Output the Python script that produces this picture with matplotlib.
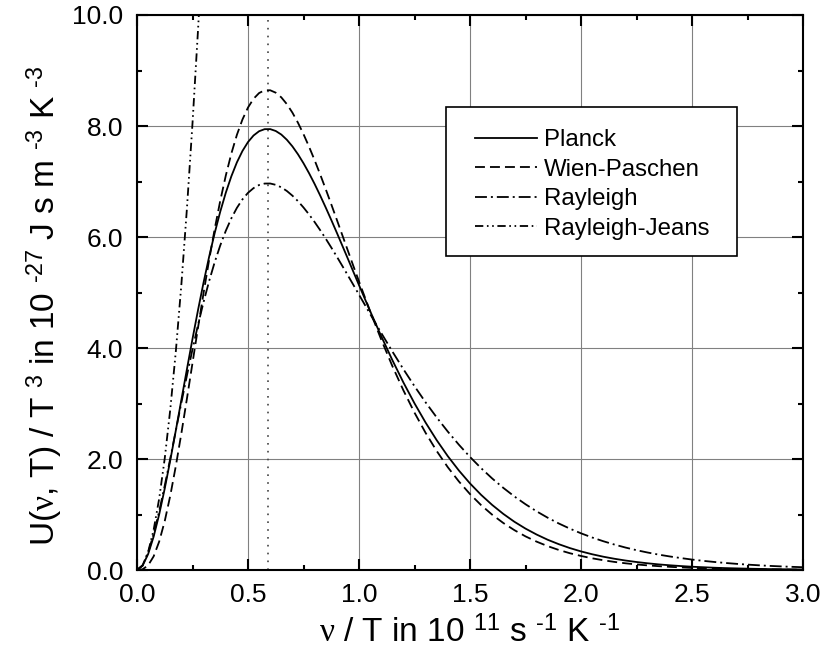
import matplotlib
matplotlib.use("Agg")
import matplotlib.pyplot as plt
from matplotlib.ticker import MultipleLocator, FormatStrFormatter
from matplotlib.patches import Rectangle

plt.rcParams['font.family'] = ['Liberation Sans', 'DejaVu Sans']
plt.rcParams['mathtext.fontset'] = 'custom'
plt.rcParams['mathtext.rm'] = 'Liberation Sans'
plt.rcParams['mathtext.it'] = 'Liberation Serif'
plt.rcParams['mathtext.bf'] = 'Liberation Sans:bold'

# nu/T in 1e11 s^-1 K^-1
X = [0.000, 0.025, 0.050, 0.075, 0.100, 0.125, 0.150, 0.175, 0.200, 0.225,
     0.250, 0.275, 0.300, 0.325, 0.350, 0.375, 0.400, 0.425, 0.450, 0.475,
     0.500, 0.525, 0.550, 0.575, 0.600, 0.625, 0.650, 0.675, 0.700, 0.725,
     0.750, 0.775, 0.800, 0.825, 0.850, 0.875, 0.900, 0.925, 0.950, 0.975,
     1.000, 1.05, 1.10, 1.15, 1.20, 1.25, 1.30, 1.35, 1.40, 1.45, 1.50,
     1.55, 1.60, 1.65, 1.70, 1.75, 1.80, 1.85, 1.90, 1.95, 2.00, 2.05,
     2.10, 2.15, 2.20, 2.25, 2.30, 2.35, 2.40, 2.45, 2.50, 2.55, 2.60,
     2.65, 2.70, 2.75, 2.80, 2.85, 2.90, 2.95, 3.00]

PLANCK = [0.000, 0.076, 0.285, 0.602, 1.003, 1.469, 1.979, 2.517, 3.069, 3.621,
          4.164, 4.687, 5.183, 5.646, 6.072, 6.457, 6.798, 7.094, 7.345, 7.550,
          7.711, 7.829, 7.906, 7.943, 7.944, 7.910, 7.846, 7.752, 7.633, 7.491,
          7.329, 7.150, 6.956, 6.749, 6.532, 6.308, 6.078, 5.843, 5.607, 5.370,
          5.133, 4.666, 4.214, 3.784, 3.379, 3.003, 2.656, 2.339, 2.051, 1.792,
          1.560, 1.354, 1.172, 1.011, 0.869, 0.746, 0.639, 0.545, 0.465, 0.395,
          0.335, 0.284, 0.240, 0.203, 0.171, 0.144, 0.121, 0.101, 0.085, 0.071,
          0.059, 0.050, 0.041, 0.034, 0.029, 0.024, 0.020, 0.016, 0.014, 0.011,
          0.009]

WIEN = [0.000, 0.012, 0.083, 0.246, 0.513, 0.882, 1.342, 1.876, 2.465, 3.090,
        3.730, 4.371, 4.995, 5.590, 6.145, 6.653, 7.107, 7.504, 7.841, 8.117,
        8.333, 8.491, 8.594, 8.644, 8.644, 8.600, 8.516, 8.394, 8.241, 8.059,
        7.853, 7.627, 7.385, 7.129, 6.863, 6.590, 6.312, 6.032, 5.752, 5.473,
        5.198, 4.662, 4.153, 3.677, 3.237, 2.835, 2.471, 2.144, 1.852, 1.595,
        1.368, 1.169, 0.996, 0.847, 0.718, 0.606, 0.511, 0.430, 0.361, 0.302,
        0.253, 0.211, 0.176, 0.146, 0.121, 0.100, 0.083, 0.069, 0.057, 0.047,
        0.038, 0.032, 0.026, 0.021, 0.017, 0.014, 0.012, 0.010, 0.008, 0.006,
        0.005]

RAYLEIGH = [0.000, 0.085, 0.314, 0.649, 1.060, 1.521, 2.012, 2.515, 3.017, 3.507,
            3.977, 4.420, 4.831, 5.207, 5.547, 5.848, 6.112, 6.337, 6.525, 6.678,
            6.796, 6.881, 6.937, 6.963, 6.964, 6.940, 6.895, 6.829, 6.745, 6.646,
            6.532, 6.406, 6.270, 6.124, 5.971, 5.811, 5.647, 5.478, 5.307, 5.135,
            4.961, 4.614, 4.272, 3.939, 3.618, 3.312, 3.021, 2.749, 2.494, 2.257,
            2.037, 1.835, 1.649, 1.480, 1.325, 1.185, 1.057, 0.942, 0.838, 0.745,
            0.661, 0.586, 0.519, 0.459, 0.405, 0.357, 0.315, 0.277, 0.244, 0.215,
            0.188, 0.165, 0.145, 0.127, 0.111, 0.097, 0.085, 0.074, 0.065, 0.057,
            0.050]

X_RJ = [0.000, 0.025, 0.050, 0.075, 0.100, 0.125, 0.150, 0.175, 0.200, 0.225,
        0.250, 0.275, 0.300]
RAYLEIGH_JEANS = [0.000, 0.080, 0.322, 0.724, 1.288, 2.012, 2.898, 3.944, 5.151,
                  6.520, 8.049, 9.739, 11.591]

PEAK_X = 0.588

SERIES_LABELS = ['Planck', 'Wien-Paschen', 'Rayleigh', 'Rayleigh-Jeans']
X_TICKS = [0.0, 0.5, 1.0, 1.5, 2.0, 2.5, 3.0]
Y_TICKS = [0.0, 2.0, 4.0, 6.0, 8.0, 10.0]

HY = '\u2010'  # short hyphen used as superscript minus

fig = plt.figure(figsize=(8.4, 6.63), dpi=100)
ax = fig.add_axes([137/840, 1 - 570/663, 666/840, 555/663])

lw = 1.3
ax.plot(X, PLANCK, color='black', lw=lw, label=SERIES_LABELS[0])
ax.plot(X, WIEN, color='black', lw=lw, dashes=(5.5, 2.8), label=SERIES_LABELS[1])
ax.plot(X, RAYLEIGH, color='black', lw=lw, dashes=(6.6, 2.2, 1.1, 2.2), label=SERIES_LABELS[2])
ax.plot(X_RJ, RAYLEIGH_JEANS, color='black', lw=lw,
        dashes=(4.6, 2.0, 0.9, 2.0, 0.9, 2.0), label=SERIES_LABELS[3])
ax.axvline(PEAK_X, color='#444444', lw=1.2, dashes=(1.0, 3.7), zorder=1.5)

ax.set_xlim(X_TICKS[0], X_TICKS[-1])
ax.set_ylim(Y_TICKS[0], Y_TICKS[-1])
ax.set_xticks(X_TICKS)
ax.set_yticks(Y_TICKS)
ax.xaxis.set_minor_locator(MultipleLocator(0.25))
ax.yaxis.set_minor_locator(MultipleLocator(1.0))
ax.xaxis.set_major_formatter(FormatStrFormatter('%.1f'))
ax.yaxis.set_major_formatter(FormatStrFormatter('%.1f'))

ax.set_axisbelow(True)
ax.grid(True, which='major', color='#808080', lw=0.8)

for s in ax.spines.values():
    s.set_linewidth(1.5)
    s.set_color('black')

ax.tick_params(which='both', direction='in', top=True, right=True, width=1.5, color='black')
ax.tick_params(which='major', length=8)
ax.tick_params(which='minor', length=3.8)
ax.tick_params(axis='x', which='major', labelsize=19, pad=9)
ax.tick_params(axis='y', which='major', labelsize=19, pad=10)

ax.set_xlabel(r'$\nu$ / T in 10 $^{11}$ s $^{%s1}$ K $^{%s1}$' % (HY, HY), fontsize=24)
ax.set_ylabel(r'U($\nu$, T) / T $^{3}$ in 10 $^{%s27}$ J s m $^{%s3}$ K $^{%s3}$' % (HY, HY, HY),
              fontsize=24)
ax.xaxis.set_label_coords(0.5, -0.083)
ax.yaxis.set_label_coords(-0.108, 0.476)

# legend frame
ax.add_patch(Rectangle((0.464, 0.566), 0.437, 0.268, transform=ax.transAxes,
                       facecolor='white', edgecolor='black', lw=1.2, zorder=3))
leg = ax.legend(loc='upper left', bbox_to_anchor=(0.5075, 0.794), borderaxespad=0,
                fontsize=17.3, frameon=False, handlelength=2.58, handletextpad=0.29,
                borderpad=0, labelspacing=0.31)
leg.set_zorder(4)

fig.savefig('out.png', dpi=100)
